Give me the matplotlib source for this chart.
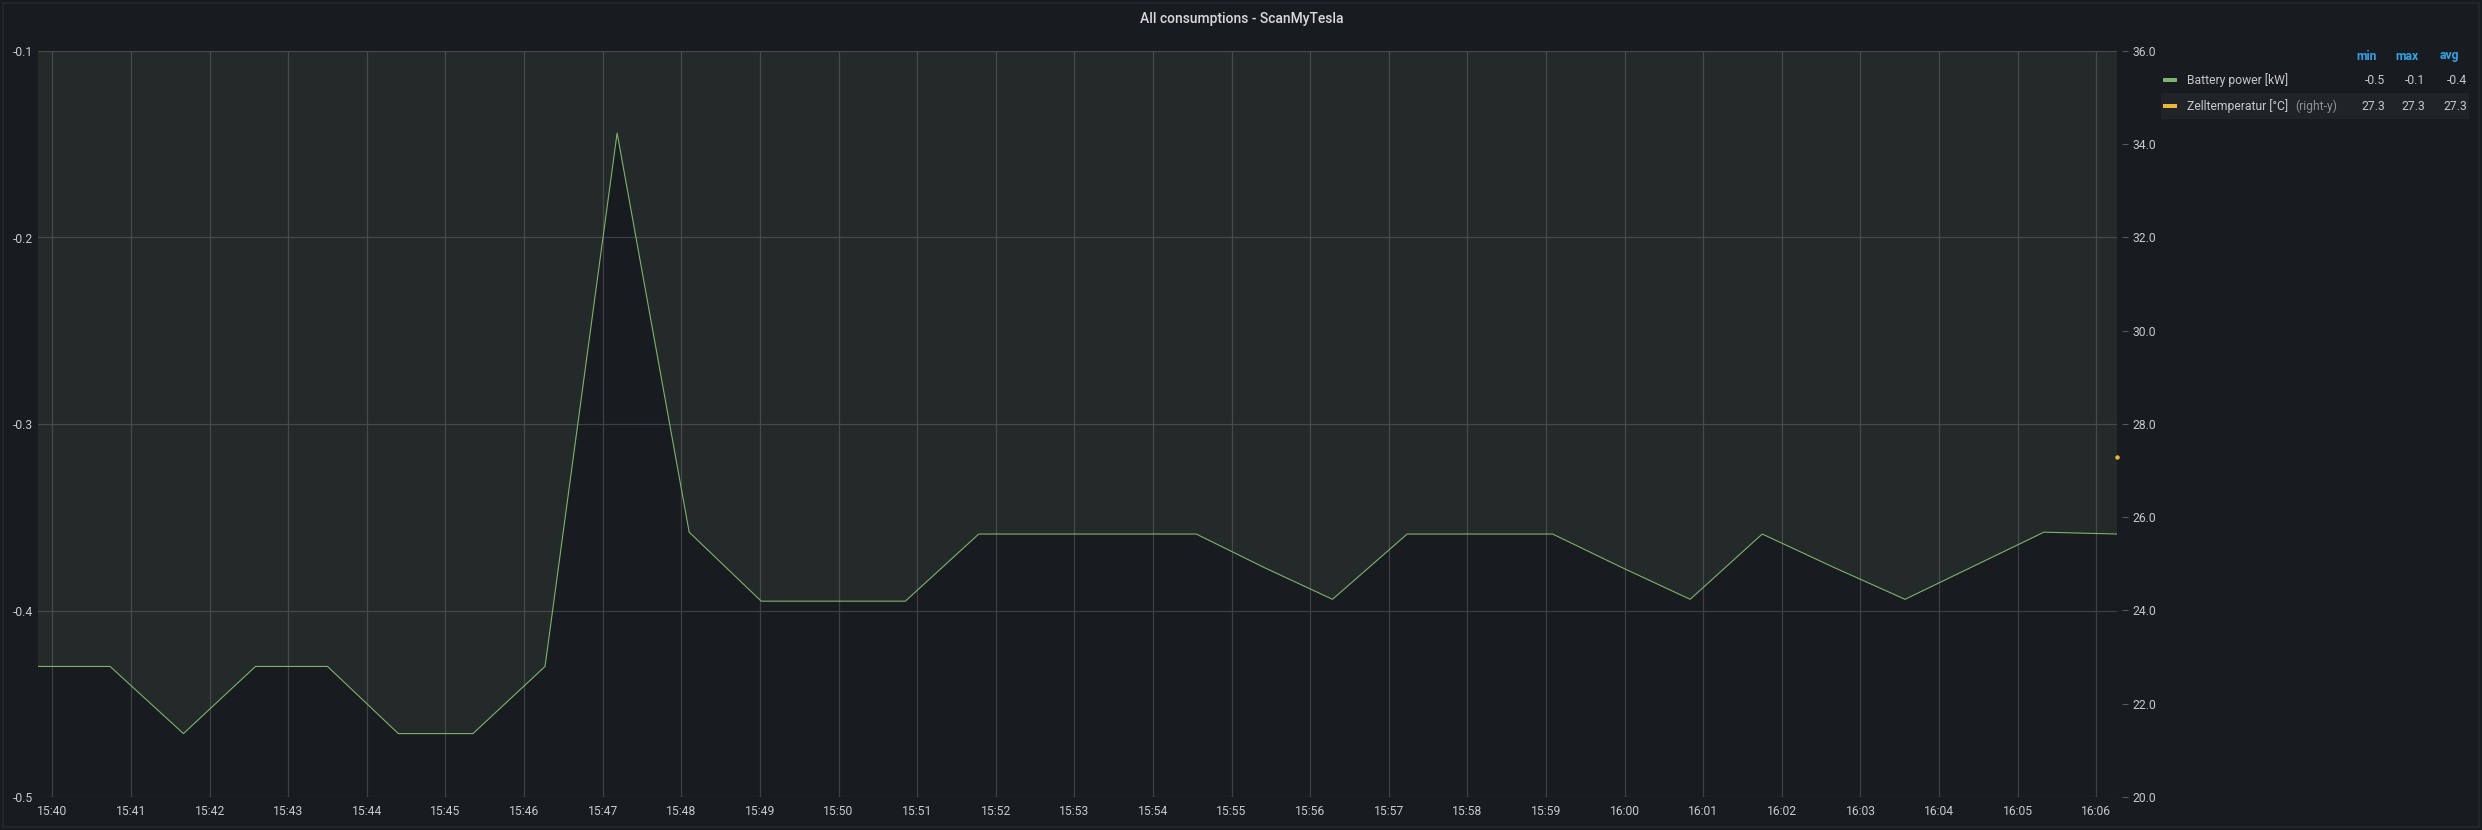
import pandas as pd
import matplotlib
matplotlib.use("Agg")
import matplotlib.pyplot as plt
import matplotlib.dates as mdates
from matplotlib.patches import Rectangle

plt.rcParams['font.family'] = ['Roboto', 'DejaVu Sans']

# data
times = ["15:39:49", "15:40:44", "15:41:40", "15:42:35", "15:43:30", "15:44:24",
         "15:45:21", "15:46:16", "15:47:11", "15:48:06", "15:49:01", "15:49:56",
         "15:50:51", "15:51:47", "15:52:42", "15:53:37", "15:54:33", "15:55:25",
         "15:56:17", "15:57:14", "15:58:10", "15:59:05", "15:59:58", "16:00:50",
         "16:01:45", "16:02:40", "16:03:34", "16:04:27", "16:05:20", "16:06:16"]
battery_kw = [-0.430, -0.430, -0.466, -0.430, -0.430, -0.466,
              -0.466, -0.430, -0.144, -0.358, -0.395, -0.395,
              -0.395, -0.359, -0.359, -0.359, -0.359, -0.377,
              -0.394, -0.359, -0.359, -0.359, -0.377, -0.394,
              -0.359, -0.377, -0.394, -0.376, -0.358, -0.359]
temp_times = ["16:06:16"]
cell_temp = [27.3]

left_ticks = [-0.5, -0.4, -0.3, -0.2, -0.1]
right_ticks = [20, 22, 24, 26, 28, 30, 32, 34, 36]

series_names = ["Battery power [kW]", "Zelltemperatur [°C]"]
stat_headers = ["min", "max", "avg"]

BG = '#181b1f'
GREEN = '#7eb26d'
YELLOW = '#eab839'
TXT = '#c7c9cd'
GRID = '#3d4045'

W, H = 2482, 830
t = pd.to_datetime(["2021-01-01 " + s for s in times])
tt = pd.to_datetime(["2021-01-01 " + s for s in temp_times])

fig = plt.figure(figsize=(W / 100, H / 100), dpi=100, facecolor=BG)


def fx(x):
    return x / W


def fy(y):
    return 1 - y / H


# panel border
fig.patches.append(Rectangle((fx(3), fy(827)), fx(2476), (824) / H, transform=fig.transFigure,
                             facecolor='none', edgecolor='#25282d', lw=1.2))

ax = fig.add_axes([fx(38), fy(797), fx(2117.3 - 38), (797 - 51) / H])
ax.set_facecolor(BG)
ax.plot(t, battery_kw, color=GREEN, lw=0.8, zorder=3)
ax.fill_between(t, battery_kw, 0, color='#8fa889', alpha=0.1, lw=0, zorder=2)
ax.set_xlim(t[0], t[-1])
ax.set_ylim(-0.5, -0.1)
ax.set_yticks(left_ticks)
ax.set_yticklabels(["%.1f" % v for v in left_ticks])
ax.xaxis.set_major_locator(mdates.MinuteLocator())
ax.xaxis.set_major_formatter(mdates.DateFormatter('%H:%M'))
ax.grid(True, color=GRID, lw=0.9, zorder=1)
ax.set_axisbelow(True)
ax.tick_params(axis='both', length=0, colors=TXT, labelsize=8.7)
ax.tick_params(axis='x', pad=6)
ax.tick_params(axis='y', pad=3.6)
for s in ax.spines.values():
    s.set_visible(False)

ax2 = ax.twinx()
ax2.plot(tt, cell_temp, 'o', color=YELLOW, ms=2.2, clip_on=False, zorder=4)
ax2.set_ylim(20, 36)
ax2.set_yticks(right_ticks)
ax2.set_yticklabels(["%.1f" % v for v in right_ticks])
ax2.tick_params(axis='y', length=4, width=0.8, color='#55585d', colors=TXT, labelsize=8.7, pad=3)
ax2.tick_params(axis='y', color='#55585d')
for s in ax2.spines.values():
    s.set_visible(False)
ax2.spines['right'].set_position(('outward', 3.6))

# title
fig.text(fx(1242), fy(19), "All consumptions - ScanMyTesla", ha='center', va='center',
         fontsize=10, color='#d8d9da', weight='medium')

# legend table
fig.patches.append(Rectangle((fx(2161), fy(119)), fx(2469 - 2161), 26 / H, transform=fig.transFigure,
                             facecolor='#202328', edgecolor='none'))
hx = [2377, 2418, 2459]
vx = [2385, 2425, 2467]
for h, x in zip(stat_headers, hx):
    fig.text(fx(x), fy(56), h, ha='right', va='center', fontsize=8.7, color='#33a2e5', weight='bold')

stats = [[min(battery_kw), max(battery_kw), sum(battery_kw) / len(battery_kw)],
         [min(cell_temp), max(cell_temp), sum(cell_temp) / len(cell_temp)]]
colors = [GREEN, YELLOW]
rows_y = [80, 106]
for name, c, st, y in zip(series_names, colors, stats, rows_y):
    fig.patches.append(Rectangle((fx(2163), fy(y + 2)), fx(14), 4 / H, transform=fig.transFigure,
                                 facecolor=c, edgecolor='none'))
    txt = fig.text(fx(2187), fy(y), name, ha='left', va='center', fontsize=8.7, color=TXT)
    for v, x in zip(st, vx):
        fig.text(fx(x), fy(y), "%.1f" % v, ha='right', va='center', fontsize=8.7, color=TXT)

# "(right-y)" marker next to the second series name
fig.text(fx(2295), fy(106), "(right-y)", ha='left', va='center', fontsize=8.7, color='#8e9094')

fig.savefig("out.png", dpi=100, facecolor=BG)
